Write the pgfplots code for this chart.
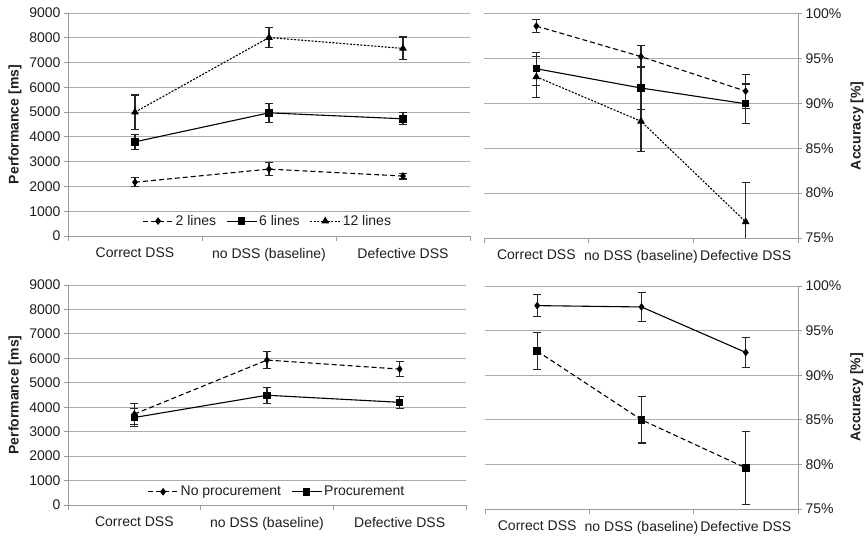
\documentclass[border=0pt]{standalone}
\usepackage{pgfplots}
\pgfplotsset{compat=1.18}
\usepackage{fontspec}
\setmainfont{Liberation Sans}
\definecolor{gridgray}{RGB}{172,172,172}
\definecolor{axgray}{RGB}{155,155,155}
\definecolor{txt}{RGB}{30,30,30}
\newcommand{\fs}{\fontsize{14}{16}\selectfont}
\pgfplotsset{
 panel/.style={
  scale only axis,
  anchor=south west,
  xmin=-0.5, xmax=2.5,
  xtick={0,1,2},
  xticklabels={Correct DSS, no DSS (baseline), Defective DSS},
  minor xtick={-0.5,0.5,1.5,2.5},
  tick align=outside,
  major tick length=4pt,
  minor tick length=5pt,
  tick style={axgray, line width=0.9pt},
  major x tick style={draw=none},
  ymajorgrids,
  grid style={gridgray, line width=0.9pt},
  axis line style={axgray, line width=0.9pt},
  tick label style={font=\fs, text=txt},
  xticklabel style={yshift=-4.5pt},
  label style={font=\fs\bfseries, text=txt},
  /pgf/number format/assume math mode=true,
  /pgf/number format/1000 sep={},
  scaled y ticks=false,
  axis x line*=bottom,
  legend image code/.code={\draw[mark repeat=2,mark phase=2] plot coordinates {(0pt,0pt) (15pt,0pt) (30pt,0pt)};},
  legend style={draw=none, fill=none, font=\fs, text=txt, anchor=center,
    /tikz/every even column/.append style={column sep=8pt}},
 },
 sA/.style={black, line width=1.1pt, dash pattern=on 5pt off 3pt, mark=diamond*, mark size=3pt, mark options={solid}},
 sB/.style={black, line width=1.1pt, solid, mark=square*, mark size=3.2pt},
 sC/.style={black, line width=1.1pt, dash pattern=on 2pt off 1.5pt, mark=triangle*, mark size=3.4pt, mark options={solid}},
 sAs/.style={black, line width=1.1pt, solid, mark=diamond*, mark size=3pt},
 sBd/.style={black, line width=1.1pt, dash pattern=on 5pt off 3pt, mark=square*, mark size=3.2pt, mark options={solid}},
 eb/.style={error bars/.cd, y dir=both, y explicit,
   error bar style={solid, line width=1.1pt, black!85},
   error mark options={rotate=90, mark size=4pt, line width=1.1pt, black!85, solid}},
}
\begin{document}
\begin{tikzpicture}
\path[use as bounding box] (0pt,0pt) rectangle (865pt,536pt);
% top left
\begin{axis}[panel, at={(68pt,300pt)}, width=402pt, height=223pt,
 ymin=0, ymax=9000, ytick distance=1000,
 axis y line*=left,
 ylabel={Performance [ms]},
 ylabel style={at={(axis description cs:-0.132,0.5)}, anchor=center},
 legend columns=3,
 legend style={at={(0.497,0.067)}},
]
\addplot[sA, eb] coordinates {(0,2170) +- (0,190) (1,2700) +- (0,250) (2,2420) +- (0,120)};
\addlegendentry{2 lines}
\addplot[sB, eb] coordinates {(0,3800) +- (0,310) (1,4970) +- (0,380) (2,4730) +- (0,240)};
\addlegendentry{6 lines}
\addplot[sC, eb] coordinates {(0,5000) +- (0,690) (1,8010) +- (0,420) (2,7570) +- (0,460)};
\addlegendentry{12 lines}
\end{axis}
% top right
\begin{axis}[panel, at={(484pt,298pt)}, width=314pt, height=224.5pt,
 ymin=75, ymax=100, ytick distance=5,
 axis y line*=right,
 yticklabel={\pgfmathprintnumber{\tick}\%},
 ylabel={Accuracy [\%]},
 ylabel style={at={(axis description cs:1.188,0.5)}, anchor=center},
]
\addplot[sA, eb] coordinates {(0,98.6) +- (0,0.75) (1,95.2) +- (0,1.2) (2,91.35) +- (0,1.9)};
\addplot[sB, eb] coordinates {(0,93.85) +- (0,1.85) (1,91.7) +- (0,2.4) (2,89.95) +- (0,2.2)};
\addplot[sC, eb] coordinates {(0,92.95) +- (0,2.3) (1,88.0) +- (0,3.4) (2,76.8) +- (0,4.35)};
\end{axis}
% bottom left
\begin{axis}[panel, at={(68pt,31pt)}, width=398pt, height=220pt,
 ymin=0, ymax=9000, ytick distance=1000,
 axis y line*=left,
 ylabel={Performance [ms]},
 ylabel style={at={(axis description cs:-0.133,0.5)}, anchor=center},
 legend columns=2,
 legend style={at={(0.525,0.06)}},
]
\addplot[sA, eb] coordinates {(0,3720) +- (0,430) (1,5930) +- (0,340) (2,5560) +- (0,320)};
\addlegendentry{No procurement}
\addplot[sB, eb] coordinates {(0,3580) +- (0,380) (1,4490) +- (0,330) (2,4200) +- (0,240)};
\addlegendentry{Procurement}
\end{axis}
% bottom right
\begin{axis}[panel, at={(485pt,27pt)}, width=313pt, height=223pt,
 ymin=75, ymax=100, ytick distance=5,
 axis y line*=right,
 yticklabel={\pgfmathprintnumber{\tick}\%},
 ylabel={Accuracy [\%]},
 ylabel style={at={(axis description cs:1.188,0.5)}, anchor=center},
]
\addplot[sAs, eb] coordinates {(0,97.8) +- (0,1.2) (1,97.65) +- (0,1.6) (2,92.55) +- (0,1.7)};
\addplot[sBd, eb] coordinates {(0,92.7) +- (0,2.1) (1,85.0) +- (0,2.6) (2,79.6) +- (0,4.1)};
\end{axis}
\end{tikzpicture}
\end{document}
